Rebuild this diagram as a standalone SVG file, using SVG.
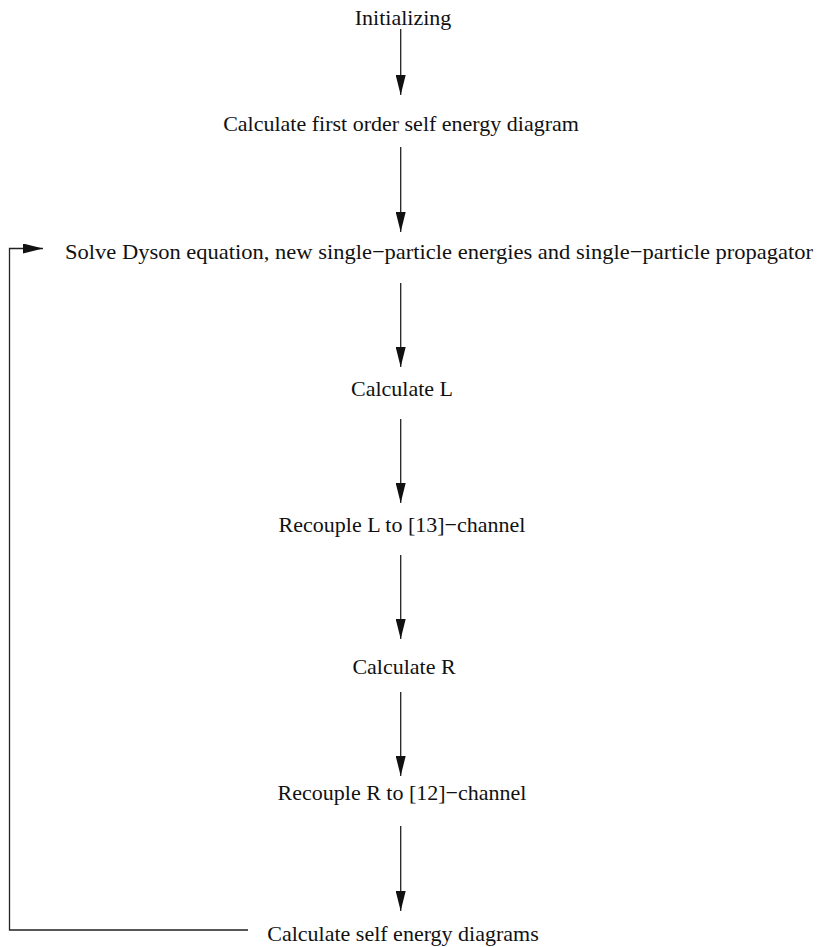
<svg xmlns="http://www.w3.org/2000/svg" width="827" height="947" viewBox="0 0 827 947">
<style>
text{font-family:"Liberation Serif","Times New Roman",serif;font-size:22px;fill:#111}
.c{text-anchor:middle}
.e{stroke:#222;stroke-width:1.3;fill:none}
</style>
<defs>
<marker id="ah" markerUnits="userSpaceOnUse" markerWidth="20" markerHeight="10" refX="20" refY="5" orient="auto">
<path d="M0,0 L20,5 L0,10 Z" fill="#111"/>
</marker>
</defs>
<rect width="827" height="947" fill="#fff"/>
<g id="n1"><text class="c" x="403" y="25">Initializing</text></g>
<g id="n2"><text class="c" x="401" y="131">Calculate first order self energy diagram</text></g>
<g id="n3"><text x="65" y="259" textLength="748" lengthAdjust="spacingAndGlyphs">Solve Dyson equation, new single−particle energies and single−particle propagator</text></g>
<g id="n4"><text class="c" x="402" y="396">Calculate L</text></g>
<g id="n5"><text class="c" x="402" y="532">Recouple L to [13]−channel</text></g>
<g id="n6"><text class="c" x="404" y="674">Calculate R</text></g>
<g id="n7"><text class="c" x="402" y="800">Recouple R to [12]−channel</text></g>
<g id="n8"><text class="c" x="403" y="941">Calculate self energy diagrams</text></g>
<g id="connectors">
<path class="e" d="M400.7,29 V95" marker-end="url(#ah)"/>
<path class="e" d="M400.7,147 V232" marker-end="url(#ah)"/>
<path class="e" d="M400.7,283 V367" marker-end="url(#ah)"/>
<path class="e" d="M400.7,419 V503" marker-end="url(#ah)"/>
<path class="e" d="M400.7,555 V639" marker-end="url(#ah)"/>
<path class="e" d="M400.7,692 V776" marker-end="url(#ah)"/>
<path class="e" d="M400.7,826 V911" marker-end="url(#ah)"/>
<path class="e" d="M248,930 H9.5 V248.5 H43" marker-end="url(#ah)"/>
</g>
</svg>
